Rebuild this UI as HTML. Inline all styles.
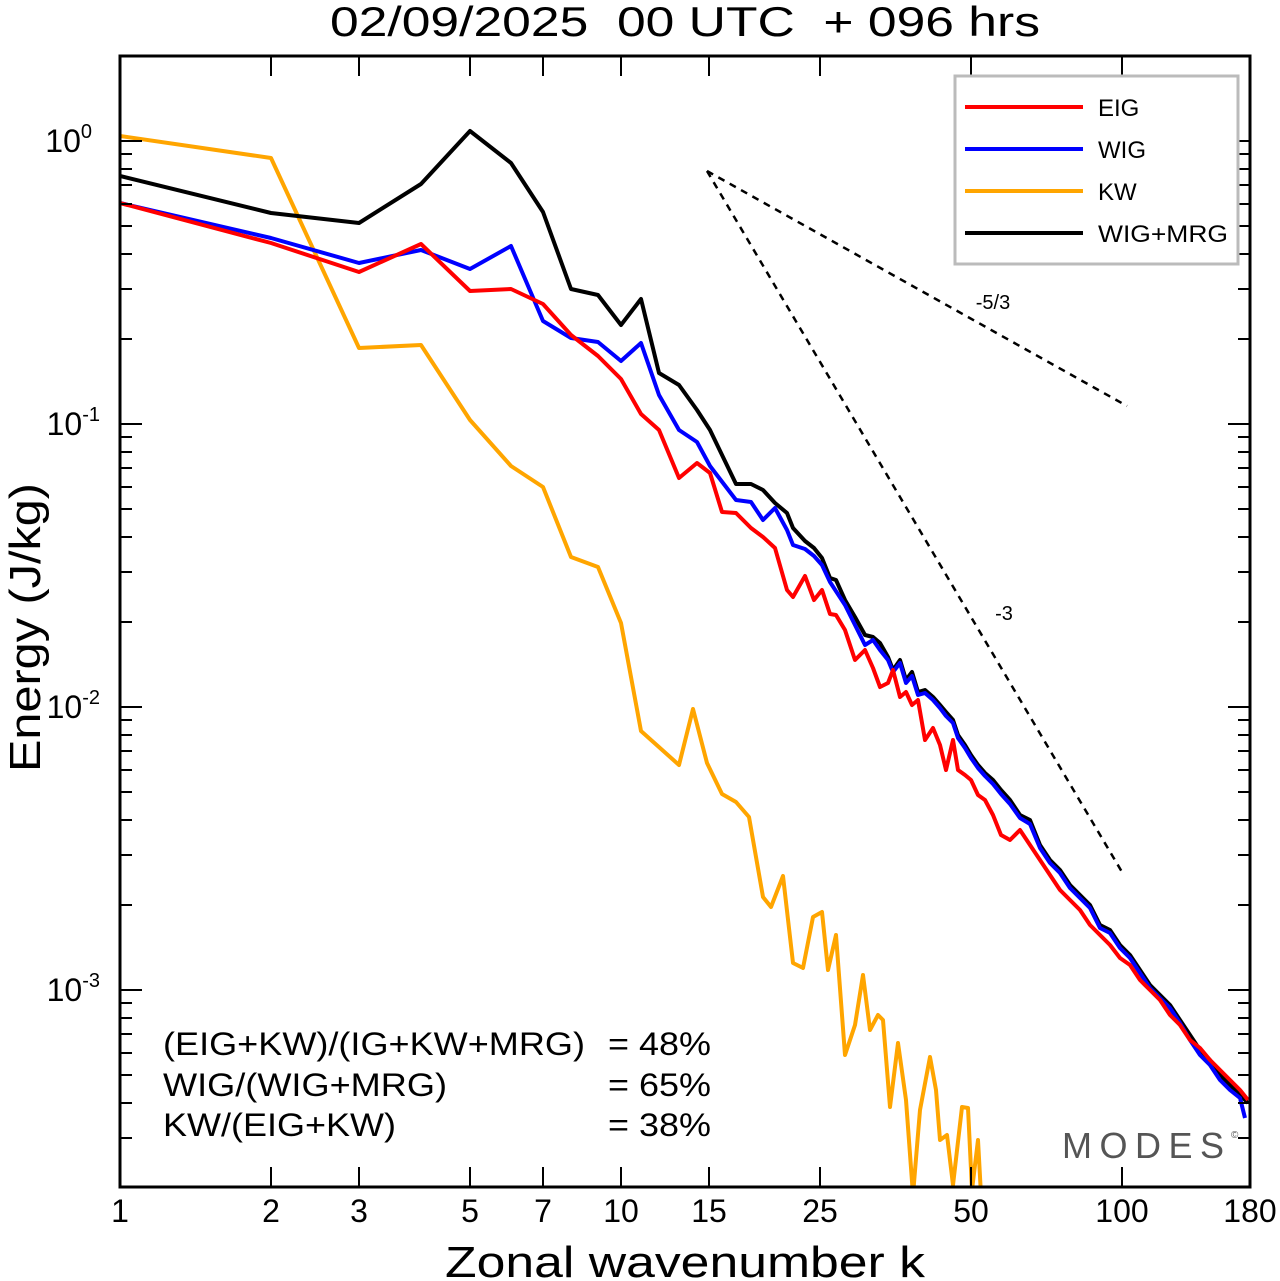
<!DOCTYPE html>
<html><head><style>body{margin:0;background:#fff}svg{display:block}text{font-family:"Liberation Sans",sans-serif}</style></head><body>
<svg width="1280" height="1281" viewBox="0 0 1280 1281" xmlns="http://www.w3.org/2000/svg">
<defs><clipPath id="c"><rect x="120" y="56" width="1130" height="1131"/></clipPath></defs>
<text x="330" y="36" font-size="42" textLength="710" lengthAdjust="spacingAndGlyphs" xml:space="preserve">02/09/2025  00 UTC  + 096 hrs</text>
<g clip-path="url(#c)" fill="none" stroke-width="4" stroke-linejoin="round">
<polyline stroke="#ffa500" points="120,136 271,158 359,348 421,345 470,420 511,466 543,487 571,557 598,567 621,623 641,731 679,765 693,709 707,763 722,794 736,802 749,817 763,897 771,907 783,876 793,963 803,968 813,917 822,912 828,970 836,935 845,1055 855,1025 863,975 870,1030 878,1015 883,1020 890,1107 898,1043 906,1100 913,1195 920,1110 930,1057 936,1090 940,1140 947,1135 953,1185 962,1107 968,1108 972,1190 978,1140 981,1195"/>
<polyline stroke="#000" points="120,176 271,213 359,223 421,184 470,131 511,163 543,212 571,289 598,295 621,325 641,299 659,373 679,385 697,410 710,430 736,484 751,484 763,490 775,503 787,513 793,528 805,541 814,548 822,558 830,578 836,580 845,600 855,617 865,635 873,637 880,643 888,657 893,670 900,660 906,680 912,672 918,692 925,690 933,697 940,705 946,712 953,720 958,735 965,745 971,755 978,765 985,773 993,780 1001,790 1010,800 1020,815 1030,820 1040,845 1050,860 1060,870 1070,885 1080,895 1090,905 1100,925 1110,930 1120,945 1130,955 1140,970 1150,985 1160,995 1170,1005 1180,1020 1190,1035 1200,1050 1210,1060 1220,1075 1230,1085 1240,1095 1248,1103"/>
<polyline stroke="#0000ff" points="120,203 271,238 359,263 421,250 470,269 511,246 543,321 571,338 598,342 621,361 641,343 659,395 679,430 697,442 710,466 736,500 751,502 763,520 775,508 787,530 793,545 805,549 814,556 822,565 830,582 845,605 855,625 865,645 873,640 880,650 888,660 893,672 900,663 906,683 912,676 918,695 925,693 933,700 940,708 946,716 953,723 958,738 965,748 971,758 978,768 985,776 993,784 1001,794 1010,804 1020,818 1030,824 1040,848 1050,863 1060,873 1070,888 1080,898 1090,908 1100,928 1110,933 1120,948 1130,958 1140,973 1150,988 1160,998 1170,1008 1180,1023 1190,1040 1200,1055 1210,1065 1220,1080 1230,1090 1240,1098 1245,1118"/>
<polyline stroke="#ff0000" points="120,203 271,243 359,272 421,244 470,291 511,289 543,304 571,335 598,356 621,379 641,414 659,430 679,478 697,463 710,473 722,512 736,513 751,528 763,537 775,548 787,590 793,597 805,576 814,600 822,590 830,614 836,615 845,630 855,660 865,650 873,668 880,687 888,683 893,670 900,697 906,692 912,705 918,700 925,740 933,728 940,745 946,770 953,740 958,770 965,775 971,780 978,795 985,800 993,815 1001,835 1010,840 1020,830 1030,845 1040,860 1050,875 1060,890 1070,900 1080,910 1090,925 1100,935 1110,945 1120,958 1130,965 1140,980 1150,990 1160,1000 1170,1015 1180,1025 1190,1040 1200,1048 1210,1060 1220,1070 1230,1080 1240,1090 1248,1100"/>
<g stroke="#000" stroke-width="2.5" stroke-dasharray="7,6"><line x1="707" y1="171" x2="1127" y2="406"/><line x1="707" y1="171" x2="1122" y2="872"/></g>
</g>
<path stroke="#000" stroke-width="2" fill="none" d="M120,1187v-20M120,56v20M271,1187v-20M271,56v20M359,1187v-20M359,56v20M470,1187v-20M470,56v20M543,1187v-20M543,56v20M621,1187v-20M621,56v20M709,1187v-20M709,56v20M820,1187v-20M820,56v20M971,1187v-20M971,56v20M1122,1187v-20M1122,56v20
M120,141h22M1250,141h-22M120,424h22M1250,424h-22M120,707h22M1250,707h-22M120,990h22M1250,990h-22
M120,339h12M120,289h12M120,254h12M120,226h12M120,204h12M120,185h12M120,169h12M120,154h12
M120,622h12M120,572h12M120,537h12M120,509h12M120,487h12M120,468h12M120,452h12M120,437h12
M120,905h12M120,855h12M120,820h12M120,792h12M120,770h12M120,751h12M120,735h12M120,720h12
M120,1138h12M120,1103h12M120,1075h12M120,1053h12M120,1034h12M120,1018h12M120,1003h12
M1250,339h-12M1250,289h-12M1250,254h-12M1250,226h-12M1250,204h-12M1250,185h-12M1250,169h-12M1250,154h-12
M1250,622h-12M1250,572h-12M1250,537h-12M1250,509h-12M1250,487h-12M1250,468h-12M1250,452h-12M1250,437h-12
M1250,905h-12M1250,855h-12M1250,820h-12M1250,792h-12M1250,770h-12M1250,751h-12M1250,735h-12M1250,720h-12
M1250,1138h-12M1250,1103h-12M1250,1075h-12M1250,1053h-12M1250,1034h-12M1250,1018h-12M1250,1003h-12"/>
<rect x="120" y="56" width="1130" height="1131" fill="none" stroke="#000" stroke-width="3"/>
<text x="993" y="309" font-size="20" text-anchor="middle">-5/3</text>
<text x="1004" y="620" font-size="20" text-anchor="middle">-3</text>
<rect x="955" y="76" width="283" height="188" fill="#fff" stroke="#bbb" stroke-width="3"/>
<g stroke-width="4"><line x1="965" y1="107" x2="1083" y2="107" stroke="#f00"/><line x1="965" y1="149" x2="1083" y2="149" stroke="#00f"/><line x1="965" y1="191" x2="1083" y2="191" stroke="#ffa500"/><line x1="965" y1="233" x2="1083" y2="233" stroke="#000"/></g>
<g font-size="24"><text x="1098" y="116">EIG</text><text x="1098" y="158">WIG</text><text x="1098" y="200">KW</text><text x="1098" y="242" textLength="130" lengthAdjust="spacingAndGlyphs">WIG+MRG</text></g>
<g font-size="32"><text x="163" y="1055" textLength="422" lengthAdjust="spacingAndGlyphs">(EIG+KW)/(IG+KW+MRG)</text><text x="163" y="1096" textLength="284" lengthAdjust="spacingAndGlyphs">WIG/(WIG+MRG)</text><text x="163" y="1136" textLength="233" lengthAdjust="spacingAndGlyphs">KW/(EIG+KW)</text><text x="608" y="1055" textLength="103" lengthAdjust="spacingAndGlyphs">= 48%</text><text x="608" y="1096" textLength="103" lengthAdjust="spacingAndGlyphs">= 65%</text><text x="608" y="1136" textLength="103" lengthAdjust="spacingAndGlyphs">= 38%</text></g>
<text x="1062" y="1158" font-size="36" fill="#555" textLength="162">MODES</text><text x="1231" y="1138" font-size="10" fill="#555">©</text>
<g font-size="32" text-anchor="middle"><text x="120" y="1222">1</text><text x="271" y="1222">2</text><text x="359" y="1222">3</text><text x="470" y="1222">5</text><text x="543" y="1222">7</text><text x="621" y="1222">10</text><text x="709" y="1222">15</text><text x="820" y="1222">25</text><text x="971" y="1222">50</text><text x="1122" y="1222">100</text><text x="1250" y="1222">180</text></g>
<text x="445" y="1277" font-size="44" textLength="480" lengthAdjust="spacingAndGlyphs">Zonal wavenumber k</text>
<g font-size="32" text-anchor="end"><text x="92" y="152">10<tspan font-size="20" dy="-14">0</tspan></text><text x="100" y="435">10<tspan font-size="20" dy="-14">-1</tspan></text><text x="100" y="718">10<tspan font-size="20" dy="-14">-2</tspan></text><text x="100" y="1001">10<tspan font-size="20" dy="-14">-3</tspan></text></g>
<text transform="translate(40,772) rotate(-90)" font-size="44" textLength="289" lengthAdjust="spacingAndGlyphs">Energy (J/kg)</text>
</svg>
</body></html>
